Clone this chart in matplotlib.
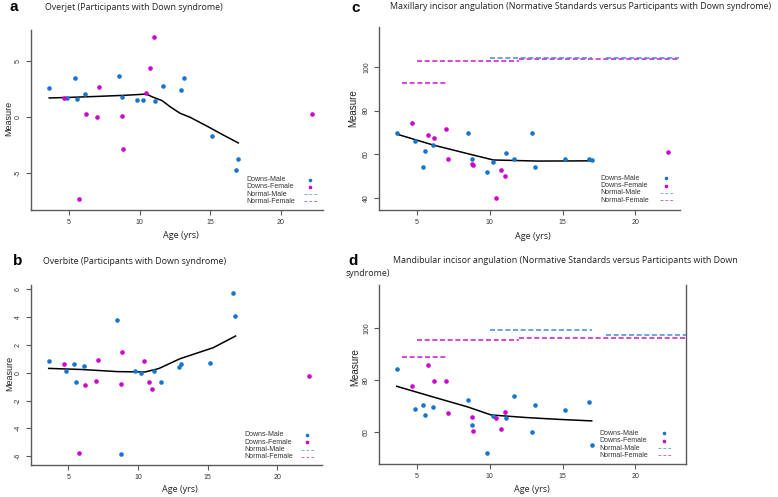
import numpy as np
import matplotlib.pyplot as plt
from matplotlib.lines import Line2D

W, H = 778, 497

# ages of the participants (same people in every panel)
male_age = [3.62, 4.86, 5.40, 5.59, 6.11, 8.52, 8.76, 9.82, 10.23, 11.13, 11.65, 12.92, 13.12, 15.14, 16.83, 16.99]
female_age = [4.67, 5.74, 6.18, 6.98, 7.15, 8.78, 8.83, 10.43, 10.76, 11.02, 22.24]

# a - overjet
overjet_male = [2.65, 1.70, 3.52, 1.64, 2.12, 3.73, 1.82, 1.52, 1.52, 1.43, 2.83, 2.42, 3.52, -1.70, -4.69, -3.71]
overjet_female = [1.70, -7.32, 0.32, 0.0, 2.72, 0.12, -2.81, 2.20, 4.42, 7.22, 0.30]
overjet_fit_age = [3.6, 5.0, 7.0, 9.0, 10.5, 10.86, 11.6, 12.16, 12.87, 13.58, 14.76, 15.93, 17.0]
overjet_fit = [1.73, 1.78, 1.87, 1.97, 2.08, 1.85, 1.49, 0.95, 0.36, 0.0, -0.78, -1.59, -2.30]

# b - overbite
overbite_male = [0.82, 0.12, 0.63, -0.67, 0.50, 3.79, -5.87, 0.10, 0.0, 0.10, -0.67, 0.41, 0.63, 0.72, 5.71, 4.10]
overbite_female = [0.63, -5.76, -0.88, -0.58, 0.91, -0.79, 1.51, 0.82, -0.67, -1.20, -0.22]
overbite_fit_age = [3.6, 6.0, 8.5, 10.5, 11.5, 13.0, 15.4, 17.0]
overbite_fit = [0.31, 0.23, 0.08, 0.05, 0.30, 1.00, 1.80, 2.64]

# c - maxillary incisor angulation
maxill_male = [69.9, 66.1, 54.3, 61.7, 64.4, 69.6, 57.9, 52.0, 56.5, 60.6, 58.0, 69.6, 54.3, 58.0, 58.0, 57.6]
maxill_female = [74.3, 68.9, 67.4, 71.6, 58.0, 55.6, 55.4, 40.3, 53.0, 50.3, 61.2]
maxill_fit_age = [3.67, 6.13, 8.6, 10.25, 13.3, 17.0]
maxill_fit = [69.2, 64.3, 60.2, 57.5, 57.0, 57.1]
# normative standards: (from age, to age, value)
maxill_norm_male = [(10, 17, 103.8), (18, 23.0, 103.8)]
maxill_norm_female = [(4, 7, 92.4), (5, 12, 102.7), (12, 23.0, 103.6)]

# d - mandibular incisor angulation
mandib_male = [84.3, 68.8, 70.4, 66.5, 69.5, 72.2, 62.8, 51.8, 66.1, 65.2, 74.0, 59.8, 70.5, 68.4, 71.4, 54.7]
mandib_female = [77.6, 85.8, 79.7, 79.7, 67.1, 65.7, 60.1, 65.5, 60.9, 67.8, np.nan]
mandib_fit_age = [3.62, 6.1, 8.5, 10.1, 12.5, 14.7, 17.0]
mandib_fit = [77.6, 73.5, 69.6, 66.5, 65.5, 64.8, 64.2]
mandib_norm_male = [(10, 17, 99.3), (18, 23.5, 97.4)]
mandib_norm_female = [(4, 7, 89.0), (5, 12, 95.5), (12, 23.5, 96.4)]

legend_labels = ['Downs-Male', 'Downs-Female', 'Normal-Male', 'Normal-Female']

BLUE = '#1874CD'
PINK = '#CD00CD'
GREY = '#5a5a5a'
DASH = (0, (3.0, 1.6))

plt.rcParams['axes.unicode_minus'] = False

fig = plt.figure(figsize=(W / 100, H / 100), dpi=100)


def px(x, y):
    return x / W, 1 - y / H


def box(l, t, r, b):
    return [l / W, 1 - b / H, (r - l) / W, (b - t) / H]


def panel(rect, xlim, ylim, yticks, male, female, fit_age, fit,
          norm_m=None, norm_f=None, right=False):
    ax = fig.add_axes(rect)
    ax.plot(male_age, male, 'o', color=BLUE, ms=3.3, mew=0, zorder=3)
    ax.plot(female_age, female, 'o', color=PINK, ms=3.3, mew=0, zorder=3)
    ax.plot(fit_age, fit, color='black', lw=1.1, zorder=2)
    if norm_f:
        for a0, a1, v in norm_f:
            ax.plot([a0, a1], [v, v], color=PINK, lw=1.2, ls=DASH, alpha=0.85)
    if norm_m:
        for a0, a1, v in norm_m:
            ax.plot([a0, a1], [v, v], color='#3a8ad8', lw=1.2, ls=DASH, alpha=0.9)
    ax.set_xlim(*xlim)
    ax.set_ylim(*ylim)
    ax.set_xticks([5, 10, 15, 20])
    ax.set_yticks(yticks)
    ax.spines['top'].set_visible(False)
    ax.spines['right'].set_visible(right)
    for s in ['left', 'bottom', 'right']:
        ax.spines[s].set_color(GREY)
        ax.spines[s].set_linewidth(1.0)
    ax.tick_params(colors=GREY, labelcolor='#333333', labelsize=5, length=3.5,
                   width=0.8, pad=3)
    for lab in ax.get_xticklabels() + ax.get_yticklabels():
        lab.set_family('Liberation Sans')
    for lab in ax.get_yticklabels():
        lab.set_rotation(90)
        lab.set_va('center')
    return ax


def legend(tx, mx, rows):
    for lab, y in zip(legend_labels, rows):
        fig.text(*px(tx, y), lab, fontsize=5, va='center', ha='left',
                 family='Liberation Sans', color='#333333')
    fig.add_artist(Line2D([mx / W], [1 - rows[0] / H], marker='o', ls='none',
                          color=BLUE, ms=2.6, mew=0))
    fig.add_artist(Line2D([mx / W], [1 - rows[1] / H], marker='o', ls='none',
                          color=PINK, ms=2.6, mew=0))
    fig.add_artist(Line2D([(mx - 6) / W, (mx + 7) / W], [1 - rows[2] / H] * 2,
                          color='#7fb0d8', lw=0.7, ls=(0, (3, 2))))
    fig.add_artist(Line2D([(mx - 6) / W, (mx + 7) / W], [1 - rows[3] / H] * 2,
                          color='#c070c8', lw=0.7, ls=(0, (3, 2))))


def labels(letter, letter_xy, title_xy, title, age_xy, meas_xy, meas_size=6.5):
    fig.text(*px(*letter_xy), letter, fontsize=11, fontweight='bold',
             family='Liberation Sans', va='baseline', ha='left')
    fig.text(*px(*title_xy), title, fontsize=6.4, family='Open Sans',
             va='baseline', ha='left', color='#222222')
    fig.text(*px(*age_xy), 'Age (yrs)', fontsize=6.5, family='Open Sans',
             va='center', ha='center', color='#222222')
    fig.text(*px(*meas_xy), 'Measure', fontsize=meas_size, family='Liberation Sans',
             va='center', ha='center', rotation=90, color='#222222')


# a
panel(box(31, 30, 323, 210), (2.31, 23.0), (-8.31, 7.82), [-5, 0, 5],
      overjet_male, overjet_female, overjet_fit_age, overjet_fit)
labels('a', (10, 10.7), (45, 9.5), 'Overjet (Participants with Down syndrome)',
       (181, 236), (8.3, 118))
legend(246.7, 310, [180, 187, 194.3, 201.3])

# b
panel(box(31, 285, 322, 465), (2.33, 23.2), (-6.64, 6.31), [-6, -4, -2, 0, 2, 4, 6],
      overbite_male, overbite_female, overbite_fit_age, overbite_fit)
labels('b', (13.3, 265), (43.3, 264.5), 'Overbite (Participants with Down syndrome)',
       (180, 489), (9.3, 373.3))
legend(244.3, 306.7, [435, 442.3, 449.7, 456.7])

# c
panel(box(379, 27, 680, 210), (2.41, 23.06), (34.7, 118.1), [40, 60, 80, 100],
      maxill_male, maxill_female, maxill_fit_age, maxill_fit,
      maxill_norm_male, maxill_norm_female)
labels('c', (351.7, 11.7), (390, 9.3),
       'Maxillary incisor angulation (Normative Standards versus Participants with Down syndrome)',
       (533.3, 236.7), (353.3, 108), 7)
legend(600.7, 666, [178.3, 185.7, 192.7, 200])

# d
panel(box(379, 285, 686, 464.3), (2.41, 23.47), (47.4, 116.8), [60, 80, 100],
      mandib_male, mandib_female, mandib_fit_age, mandib_fit,
      mandib_norm_male, mandib_norm_female, right=True)
labels('d', (348.3, 265), (392.7, 263.3),
       'Mandibular incisor angulation (Normative Standards versus Participants with Down',
       (531.7, 490), (355, 366.7), 7)
fig.text(*px(345.7, 276.5), 'syndrome)', fontsize=6.4, family='Open Sans',
         va='baseline', ha='left', color='#222222')
legend(599.3, 664.3, [433.3, 440.7, 448, 455.3])

fig.savefig('out.png', dpi=100)
